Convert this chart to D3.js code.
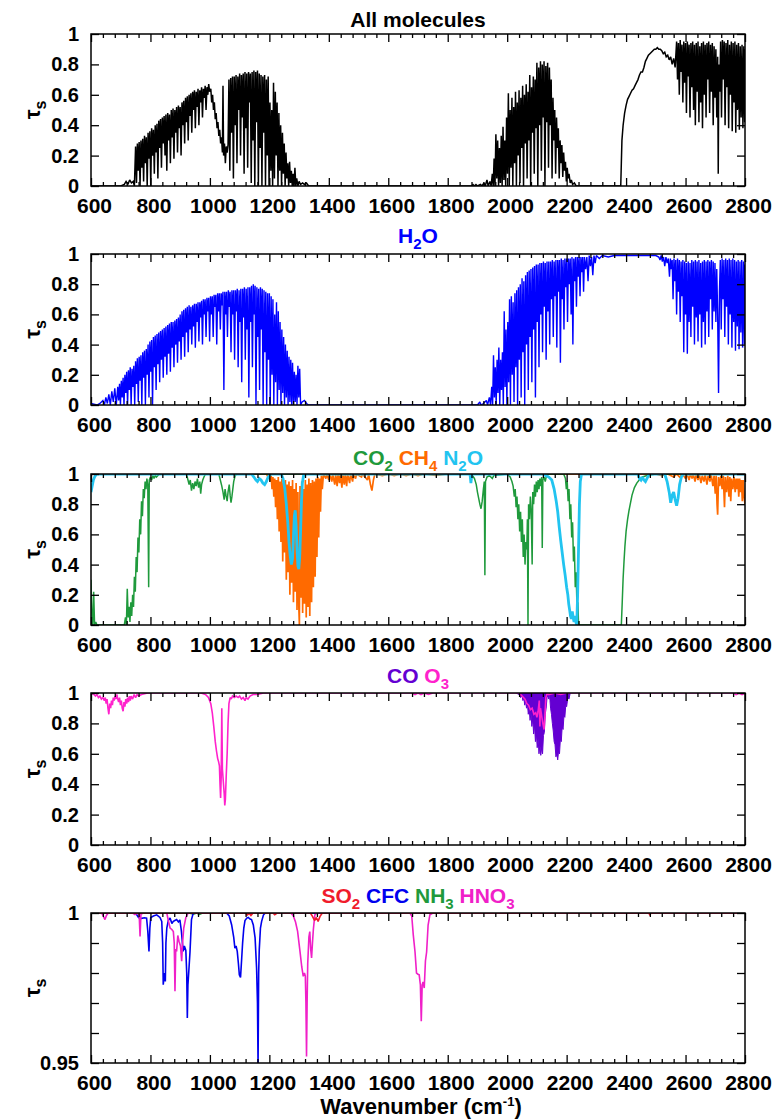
<!DOCTYPE html>
<html>
<head>
<meta charset="utf-8">
<script src="https://cdn.jsdelivr.net/npm/d3@7"></script>
<style>
  body { margin: 0; background: #fff; }
  text { font-family: "Liberation Sans", Arial, Helvetica, sans-serif; font-weight: bold; }
</style>
</head>
<body>
<svg id="chart" width="773" height="1120"></svg>
<script>
// ---- axis values ----------------------------------------------------------
const wnDomain = [600, 2800];
const wnTicks = [600, 800, 1000, 1200, 1400, 1600, 1800, 2000, 2200, 2400, 2600, 2800];
const tauTicks = [0, 0.2, 0.4, 0.6, 0.8, 1];
const tauTicksFine = [0.95, 0.96, 0.97, 0.98, 0.99, 1];
const tauLabelsFine = [0.95, 1];

// ---- transmittance spectra: [wavenumber (cm-1), tau_s] -----------------------
const allMolecules = [
  [600,0],[700,0],[712,0.01],[718,0.03],[724,0.01],[730,0.04],[736,0.02],[742,0.03],[746,0],
  [750,0.26],[753,0.02],[756,0.28],[759,0.10],[762,0.29],[765,0],[768,0.30],[771,0.12],[774,0.31],[777,0.03],
  [780,0.33],[783,0.15],[786,0.32],[789,0],[792,0.35],[795,0.18],[798,0.36],[801,0],[804,0.38],[807,0.20],
  [810,0.37],[813,0.08],[816,0.40],[819,0.22],[822,0.41],[825,0.05],[828,0.43],[831,0.25],[834,0.44],[837,0.12],
  [840,0.45],[843,0.28],[846,0.46],[849,0.20],[852,0.47],[855,0.10],[858,0.48],[861,0.30],[864,0.47],[867,0.15],
  [870,0.50],[873,0.32],[876,0.51],[879,0.18],[882,0.50],[885,0.35],[888,0.52],[891,0.22],[894,0.53],[897,0.38],
  [900,0.52],[903,0.20],[906,0.55],[909,0.40],[912,0.56],[915,0.28],[918,0.58],[921,0.42],[924,0.59],[927,0.30],
  [930,0.60],[933,0.46],[936,0.61],[939,0.35],[942,0.62],[945,0.50],[948,0.63],[951,0.38],[954,0.62],[957,0.52],
  [960,0.64],[963,0.40],[966,0.63],[969,0.55],[972,0.65],[975,0.45],[978,0.64],[981,0.58],[984,0.66],[987,0.50],
  [990,0.65],[993,0.60],[996,0.67],[999,0.62],[1003,0.64],[1006,0.55],[1009,0.60],[1012,0.50],[1015,0.55],[1018,0.44],
  [1021,0.48],[1024,0.38],[1027,0.42],[1030,0.33],[1033,0.37],[1036,0.28],[1039,0.32],[1042,0.22],[1044,0.66],[1046,0.20],
  [1049,0.28],[1052,0.15],[1055,0.26],[1058,0.22],[1061,0.27],[1064,0.70],[1067,0.10],[1070,0.71],[1073,0.35],[1076,0.72],
  [1079,0.05],[1082,0.72],[1085,0.40],[1088,0.73],[1091,0.15],[1094,0.72],[1097,0.50],[1100,0.74],[1103,0.20],[1106,0.73],
  [1109,0.45],[1112,0.74],[1115,0.08],[1118,0.75],[1121,0.38],[1124,0.74],[1127,0.12],[1130,0.75],[1133,0.55],[1136,0.74],
  [1139,0.02],[1142,0.75],[1145,0.30],[1148,0.76],[1151,0],[1154,0.75],[1157,0.42],[1160,0.76],[1163,0],[1166,0.74],
  [1169,0.25],[1172,0.73],[1175,0],[1178,0.72],[1181,0.35],[1184,0.73],[1187,0],[1190,0.70],[1193,0.20],[1196,0.72],
  [1199,0],[1202,0.55],[1205,0.10],[1208,0.50],[1211,0],[1214,0.68],[1217,0.05],[1220,0.62],[1223,0.20],[1226,0.55],
  [1229,0],[1232,0.48],[1235,0.10],[1238,0.40],[1241,0],[1244,0.35],[1247,0.08],[1250,0.28],[1253,0],[1256,0.22],
  [1259,0.05],[1262,0.15],[1265,0],[1268,0.16],[1271,0.02],[1274,0.10],[1277,0],[1280,0.08],[1283,0],[1286,0.12],
  [1289,0],[1292,0.05],[1296,0],[1300,0.03],[1305,0.01],[1312,0.02],[1318,0.01],[1325,0.02],[1332,0],[1880,0],
  [1885,0.01],[1890,0],[1895,0.01],[1900,0],[1910,0.01],[1915,0],[1922,0.02],[1926,0],[1932,0.04],[1936,0],
  [1942,0.03],[1946,0],[1950,0.08],[1953,0],[1956,0.18],[1959,0],[1962,0.34],[1965,0.05],[1968,0.30],[1971,0],
  [1974,0.25],[1977,0.02],[1980,0.33],[1983,0],[1986,0.39],[1989,0.04],[1992,0.30],[1995,0],[1998,0.45],[2001,0.08],
  [2004,0.61],[2007,0],[2010,0.50],[2013,0.12],[2016,0.58],[2019,0],[2022,0.52],[2025,0.15],[2028,0.62],[2031,0],
  [2034,0.55],[2037,0.20],[2040,0.63],[2043,0.02],[2046,0.58],[2049,0.25],[2052,0.66],[2055,0],[2058,0.60],[2061,0.28],
  [2064,0.67],[2067,0.05],[2070,0.62],[2073,0.30],[2076,0.73],[2079,0],[2082,0.65],[2085,0.35],[2088,0.72],[2091,0.08],
  [2094,0.70],[2097,0.38],[2100,0.81],[2103,0],[2106,0.78],[2109,0.40],[2112,0.82],[2115,0.10],[2118,0.80],[2121,0.45],
  [2124,0.82],[2127,0],[2130,0.79],[2133,0.42],[2136,0.81],[2139,0.12],[2142,0.78],[2145,0.40],[2148,0.70],[2151,0.05],
  [2154,0.58],[2157,0.30],[2160,0.50],[2163,0.08],[2166,0.45],[2169,0.25],[2172,0.38],[2175,0.05],[2178,0.30],[2181,0.15],
  [2184,0.27],[2187,0.06],[2190,0.22],[2193,0.10],[2196,0.16],[2199,0.03],[2202,0.12],[2205,0.05],[2208,0.08],[2212,0.02],
  [2216,0.04],[2220,0.01],[2226,0.02],[2232,0],[2382,0],[2384,0.15],[2386,0.30],[2390,0.40],[2395,0.48],[2400,0.53],
  [2405,0.57],[2410,0.59],[2415,0.61],[2420,0.63],[2425,0.64],[2430,0.66],[2435,0.68],[2440,0.70],[2445,0.73],[2450,0.75],
  [2455,0.75],[2460,0.78],[2465,0.82],[2470,0.84],[2475,0.86],[2480,0.87],[2485,0.88],[2490,0.89],[2495,0.90],[2500,0.90],
  [2505,0.91],[2510,0.90],[2515,0.90],[2520,0.89],[2525,0.87],[2530,0.88],[2535,0.85],[2540,0.86],[2545,0.83],[2550,0.85],
  [2555,0.80],[2560,0.84],[2565,0.78],[2570,0.95],[2573,0.70],[2576,0.94],[2579,0.60],[2582,0.96],[2585,0.75],[2588,0.93],
  [2591,0.55],[2594,0.95],[2597,0.68],[2600,0.94],[2603,0.48],[2606,0.95],[2609,0.72],[2612,0.93],[2615,0.45],[2618,0.94],
  [2621,0.65],[2624,0.95],[2627,0.50],[2630,0.93],[2633,0.40],[2636,0.94],[2639,0.62],[2642,0.95],[2645,0.42],[2648,0.92],
  [2651,0.55],[2654,0.94],[2657,0.38],[2660,0.95],[2663,0.60],[2666,0.93],[2669,0.45],[2672,0.94],[2675,0.70],[2678,0.95],
  [2681,0.48],[2684,0.93],[2687,0.62],[2690,0.94],[2693,0.40],[2696,0.92],[2699,0.58],[2702,0.90],[2705,0.45],[2708,0.85],
  [2710,0.08],[2712,0.80],[2715,0.62],[2718,0.95],[2721,0.45],[2724,0.96],[2727,0.70],[2730,0.95],[2733,0.40],[2736,0.94],
  [2739,0.65],[2742,0.96],[2745,0.38],[2748,0.93],[2751,0.60],[2754,0.95],[2757,0.36],[2760,0.94],[2763,0.55],[2766,0.95],
  [2769,0.35],[2772,0.93],[2775,0.50],[2778,0.94],[2781,0.37],[2784,0.92],[2787,0.45],[2790,0.93],[2793,0.38],[2796,0.92],
  [2799,0.42],[2800,0.90]
];

const h2o = [
  [600,0.01],[620,0],[630,0.01],[640,0.03],[645,0],[650,0.05],[655,0.01],[660,0.07],[665,0],[670,0.09],
  [675,0.02],[680,0.11],[685,0],[690,0.12],[693,0.03],[696,0.14],[699,0],[702,0.16],[705,0.05],[708,0.18],
  [711,0],[714,0.20],[717,0.08],[720,0.22],[723,0],[726,0.23],[729,0.10],[732,0.25],[735,0],[738,0.24],
  [741,0.12],[744,0.26],[747,0],[750,0.29],[753,0.14],[756,0.31],[759,0.02],[762,0.32],[765,0.16],[768,0.33],
  [771,0],[774,0.35],[777,0.18],[780,0.36],[783,0],[786,0.37],[789,0.20],[792,0.40],[795,0.05],[798,0.42],
  [801,0.22],[804,0.43],[807,0],[810,0.45],[813,0.25],[816,0.46],[819,0.10],[822,0.47],[825,0.27],[828,0.48],
  [831,0.15],[834,0.49],[837,0.30],[840,0.50],[843,0.18],[846,0.51],[849,0.32],[852,0.52],[855,0.20],[858,0.53],
  [861,0.34],[864,0.54],[867,0.22],[870,0.55],[873,0.38],[876,0.55],[879,0.25],[882,0.56],[885,0.40],[888,0.57],
  [891,0.28],[894,0.58],[897,0.42],[900,0.60],[903,0.30],[906,0.62],[909,0.45],[912,0.63],[915,0.32],[918,0.64],
  [921,0.48],[924,0.65],[927,0.35],[930,0.66],[933,0.50],[936,0.65],[939,0.40],[942,0.66],[945,0.52],[948,0.67],
  [951,0.38],[954,0.67],[957,0.55],[960,0.68],[963,0.42],[966,0.68],[969,0.58],[972,0.69],[975,0.40],[978,0.70],
  [981,0.60],[984,0.70],[987,0.45],[990,0.71],[993,0.62],[996,0.71],[999,0.42],[1002,0.72],[1005,0.60],[1008,0.72],
  [1011,0.45],[1014,0.73],[1017,0.65],[1020,0.73],[1023,0.40],[1026,0.74],[1029,0.62],[1032,0.74],[1035,0.50],[1038,0.74],
  [1041,0.66],[1044,0.75],[1047,0.10],[1050,0.75],[1053,0.60],[1056,0.75],[1059,0.45],[1062,0.76],[1065,0.65],[1068,0.75],
  [1071,0.35],[1074,0.76],[1077,0.60],[1080,0.76],[1083,0.30],[1086,0.76],[1089,0.62],[1092,0.77],[1095,0.25],[1098,0.76],
  [1101,0.55],[1104,0.77],[1107,0.15],[1110,0.77],[1113,0.58],[1116,0.78],[1119,0.30],[1122,0.77],[1125,0.50],[1128,0.78],
  [1131,0.05],[1134,0.78],[1137,0.55],[1140,0.79],[1143,0.25],[1146,0.80],[1149,0.60],[1152,0.79],[1155,0],[1158,0.78],
  [1161,0.45],[1164,0.77],[1167,0.10],[1170,0.78],[1173,0.50],[1176,0.77],[1179,0],[1182,0.76],[1185,0.35],[1188,0.75],
  [1191,0],[1194,0.74],[1197,0.30],[1200,0.74],[1203,0],[1206,0.72],[1209,0.20],[1212,0.70],[1215,0],[1218,0.60],
  [1221,0.15],[1224,0.68],[1227,0],[1230,0.62],[1233,0.10],[1236,0.55],[1239,0],[1242,0.50],[1245,0.08],[1248,0.45],
  [1251,0],[1254,0.40],[1257,0.05],[1260,0.36],[1263,0],[1266,0.32],[1269,0.02],[1272,0.30],[1275,0],[1278,0.28],
  [1281,0],[1284,0.22],[1287,0.02],[1290,0.20],[1293,0],[1296,0.26],[1299,0.05],[1302,0.24],[1305,0],[1310,0.02],
  [1318,0.03],[1325,0.01],[1332,0],[1900,0],[1908,0.02],[1912,0],[1920,0.01],[1930,0.03],[1934,0],[1940,0.05],
  [1944,0],[1948,0.12],[1951,0],[1954,0.33],[1957,0.05],[1960,0.25],[1963,0],[1966,0.30],[1969,0.08],[1972,0.38],
  [1975,0],[1978,0.30],[1981,0.10],[1984,0.35],[1987,0],[1990,0.62],[1993,0.12],[1996,0.50],[1999,0],[2002,0.55],
  [2005,0.15],[2008,0.70],[2011,0],[2014,0.72],[2017,0.20],[2020,0.68],[2023,0.02],[2026,0.74],[2029,0.25],[2032,0.76],
  [2035,0],[2038,0.78],[2041,0.30],[2044,0.80],[2047,0.05],[2050,0.84],[2053,0.35],[2056,0.82],[2059,0],[2062,0.86],
  [2065,0.40],[2068,0.88],[2071,0.10],[2074,0.89],[2077,0.45],[2080,0.90],[2083,0.15],[2086,0.91],[2089,0.50],[2092,0.92],
  [2095,0.05],[2098,0.93],[2101,0.55],[2104,0.93],[2107,0.25],[2110,0.94],[2113,0.60],[2116,0.94],[2119,0.35],[2122,0.95],
  [2125,0.65],[2128,0.94],[2131,0.30],[2134,0.95],[2137,0.62],[2140,0.95],[2143,0.40],[2146,0.95],[2149,0.70],[2152,0.96],
  [2155,0.45],[2158,0.95],[2161,0.72],[2164,0.96],[2167,0.38],[2170,0.96],[2173,0.75],[2176,0.96],[2179,0.28],[2182,0.97],
  [2185,0.70],[2188,0.96],[2191,0.50],[2194,0.97],[2197,0.78],[2200,0.97],[2203,0.55],[2206,0.97],[2209,0.80],[2212,0.97],
  [2215,0.60],[2218,0.98],[2221,0.40],[2224,0.97],[2227,0.82],[2230,0.98],[2233,0.65],[2236,0.98],[2239,0.85],[2242,0.98],
  [2245,0.72],[2248,0.98],[2251,0.88],[2254,0.98],[2257,0.75],[2260,0.98],[2264,0.90],[2268,0.98],[2272,0.82],[2276,0.99],
  [2280,0.92],[2284,0.98],[2288,0.86],[2292,0.99],[2296,0.94],[2300,0.99],[2310,0.97],[2320,0.99],[2340,0.98],[2360,0.99],
  [2400,0.99],[2440,0.99],[2480,0.99],[2500,0.99],[2510,0.98],[2514,0.96],[2518,0.99],[2522,0.95],[2526,0.98],[2530,0.92],
  [2534,0.98],[2538,0.94],[2542,0.97],[2546,0.85],[2549,0.97],[2552,0.90],[2555,0.96],[2558,0.70],[2561,0.97],[2564,0.82],
  [2567,0.96],[2570,0.60],[2573,0.97],[2576,0.75],[2579,0.96],[2582,0.55],[2585,0.95],[2588,0.72],[2591,0.96],[2594,0.35],
  [2597,0.95],[2600,0.60],[2603,0.94],[2606,0.34],[2609,0.95],[2612,0.55],[2615,0.94],[2618,0.45],[2621,0.96],[2624,0.65],
  [2627,0.95],[2630,0.40],[2633,0.96],[2636,0.58],[2639,0.95],[2642,0.42],[2645,0.96],[2648,0.60],[2651,0.94],[2654,0.38],
  [2657,0.95],[2660,0.55],[2663,0.96],[2666,0.40],[2669,0.95],[2672,0.62],[2675,0.96],[2678,0.45],[2681,0.95],[2684,0.70],
  [2687,0.96],[2690,0.50],[2693,0.95],[2696,0.62],[2699,0.94],[2702,0.55],[2705,0.90],[2708,0.60],[2711,0.08],[2714,0.75],
  [2717,0.96],[2720,0.50],[2723,0.97],[2726,0.70],[2729,0.96],[2732,0.45],[2735,0.97],[2738,0.65],[2741,0.96],[2744,0.40],
  [2747,0.97],[2750,0.60],[2753,0.96],[2756,0.38],[2759,0.97],[2762,0.55],[2765,0.96],[2768,0.36],[2771,0.95],[2774,0.52],
  [2777,0.96],[2780,0.37],[2783,0.95],[2786,0.48],[2789,0.96],[2792,0.38],[2795,0.95],[2798,0.40],[2800,0.93]
];

const co2 = [
  [600,0.30],[603,0.05],[606,0],[609,0.22],[612,0],[616,0.02],[620,0],[712,0],[716,0.05],[719,0],
  [722,0.24],[725,0.05],[728,0.12],[731,0.02],[734,0.15],[737,0.06],[740,0.20],[743,0.12],[746,0.32],[749,0.22],
  [752,0.45],[755,0.35],[758,0.58],[761,0.48],[764,0.70],[767,0.60],[770,0.82],[773,0.72],[776,0.90],[779,0.84],
  [782,0.95],[785,0.90],[788,0.97],[791,0.93],[794,0.25],[796,0.96],[800,0.98],[804,0.96],[808,0.99],[812,0.97],
  [816,0.99],[820,0.98],[830,1],[920,1],[925,0.97],[930,0.93],[934,0.96],[938,0.89],[942,0.94],[946,0.90],
  [950,0.95],[954,0.92],[958,0.97],[962,0.91],[966,0.95],[969,0.87],[972,0.93],[976,0.96],[980,0.98],[985,1],
  [1030,1],[1035,0.96],[1040,0.92],[1044,0.88],[1048,0.83],[1051,0.90],[1054,0.86],[1058,0.82],[1061,0.88],[1065,0.93],
  [1068,0.86],[1071,0.81],[1074,0.85],[1077,0.90],[1080,0.95],[1085,0.99],[1090,1],[1880,1],[1890,0.97],[1896,0.93],
  [1900,0.88],[1904,0.84],[1908,0.80],[1912,0.77],[1916,0.82],[1920,0.90],[1923,0.95],[1925,0.33],[1927,0.95],[1932,0.98],
  [1940,0.99],[1950,0.97],[1955,0.99],[2000,1],[2010,0.98],[2016,0.95],[2020,0.92],[2024,0.85],[2027,0.90],[2030,0.78],
  [2033,0.85],[2036,0.70],[2039,0.80],[2042,0.62],[2045,0.75],[2048,0.55],[2051,0.70],[2054,0.45],[2057,0.60],[2060,0.40],
  [2063,0.55],[2066,0.50],[2068,0.70],[2070,0],[2072,0.80],[2075,0.70],[2078,0.85],[2081,0.75],[2084,0.40],[2086,0.88],
  [2089,0.80],[2092,0.93],[2095,0.85],[2098,0.95],[2101,0.88],[2104,0.96],[2107,0.90],[2110,0.97],[2113,0.92],[2116,0.98],
  [2118,0.51],[2120,0.96],[2124,0.98],[2128,0.95],[2132,0.99],[2140,1],[2190,1],[2196,0.97],[2199,0.90],[2202,0.95],
  [2205,0.82],[2208,0.90],[2211,0.70],[2214,0.80],[2217,0.58],[2220,0.68],[2223,0.42],[2226,0.52],[2229,0.25],[2232,0.35],
  [2235,0.10],[2238,0.15],[2240,0],[2384,0],[2387,0.15],[2390,0.31],[2393,0.42],[2396,0.52],[2400,0.62],[2405,0.70],
  [2410,0.76],[2415,0.81],[2420,0.86],[2428,0.91],[2436,0.94],[2444,0.96],[2455,0.98],[2470,0.99],[2500,1],[2800,1]
];

const ch4 = [
  [600,1],[1190,1],[1196,0.98],[1200,1],[1203,0.95],[1206,0.99],[1209,0.90],[1212,0.98],[1215,0.85],[1218,0.97],
  [1221,0.78],[1224,0.96],[1227,0.70],[1230,0.98],[1233,0.62],[1236,0.95],[1239,0.55],[1242,0.97],[1245,0.42],[1248,0.94],
  [1251,0.48],[1254,0.96],[1257,0.30],[1260,0.93],[1263,0.35],[1266,0.95],[1269,0.20],[1272,0.92],[1275,0.28],[1278,0.96],
  [1281,0.15],[1284,0.90],[1287,0.22],[1290,0.94],[1293,0.10],[1296,0.88],[1299,0.13],[1301,0],[1303,0.92],[1306,0.18],
  [1309,0.95],[1312,0.08],[1315,0.90],[1318,0.14],[1321,0.96],[1324,0.05],[1327,0.93],[1330,0.12],[1333,0.97],[1336,0.06],
  [1339,0.94],[1342,0.15],[1345,0.96],[1348,0.25],[1351,0.95],[1354,0.32],[1357,0.97],[1360,0.45],[1363,0.98],[1366,0.58],
  [1369,0.97],[1372,0.75],[1375,0.99],[1378,0.90],[1382,1],[1390,0.97],[1393,1],[1400,0.96],[1403,1],[1410,0.95],
  [1413,1],[1420,0.93],[1423,1],[1428,0.92],[1431,1],[1436,0.94],[1439,1],[1444,0.91],[1447,1],[1452,0.93],
  [1455,1],[1460,0.92],[1463,1],[1470,0.94],[1473,1],[1480,0.95],[1483,1],[1490,0.97],[1493,1],[1510,0.98],
  [1513,1],[1530,0.96],[1534,1],[1540,0.93],[1545,0.89],[1550,0.96],[1555,1],[1580,0.99],[1600,1],[1620,0.99],
  [1640,1],[1660,0.99],[1680,1],[1700,0.99],[1720,1],[1760,0.99],[1800,1],[2500,1],[2520,0.99],[2540,1],
  [2560,0.98],[2570,1],[2580,0.98],[2590,1],[2600,0.97],[2605,1],[2612,0.96],[2616,1],[2622,0.97],[2626,1],
  [2632,0.95],[2636,1],[2642,0.96],[2646,1],[2652,0.94],[2656,0.99],[2662,0.95],[2666,1],[2672,0.93],[2676,0.99],
  [2682,0.95],[2686,1],[2692,0.92],[2696,0.99],[2700,0.87],[2703,0.99],[2706,0.80],[2708,0.73],[2711,0.98],[2715,0.92],
  [2719,0.99],[2723,0.90],[2727,0.99],[2731,0.78],[2734,0.98],[2738,0.88],[2742,0.99],[2746,0.85],[2749,0.98],[2752,0.82],
  [2755,0.97],[2759,0.90],[2763,0.98],[2767,0.88],[2770,0.97],[2773,0.90],[2776,0.97],[2779,0.85],[2782,0.97],[2785,0.88],
  [2788,0.96],[2791,0.82],[2794,0.96],[2797,0.85],[2800,0.80]
];

const n2o = [
  [600,0.88],[604,0.92],[608,0.96],[612,0.98],[618,1],[1140,1],[1148,0.98],[1155,0.96],[1160,0.95],[1166,0.97],
  [1172,0.96],[1178,0.94],[1184,0.93],[1190,0.95],[1196,0.98],[1205,1],[1240,1],[1246,0.97],[1252,0.90],[1257,0.80],
  [1262,0.68],[1266,0.55],[1270,0.46],[1274,0.40],[1278,0.44],[1281,0.58],[1284,0.72],[1287,0.76],[1290,0.66],[1293,0.50],
  [1296,0.39],[1299,0.37],[1302,0.45],[1305,0.62],[1308,0.82],[1311,0.94],[1315,0.99],[1320,1],[1875,1],[1878,0.94],
  [1881,1],[2120,1],[2130,0.99],[2140,0.98],[2150,0.96],[2158,0.90],[2165,0.82],[2170,0.75],[2175,0.65],[2180,0.56],
  [2185,0.48],[2190,0.40],[2195,0.33],[2200,0.25],[2204,0.20],[2207,0.14],[2210,0.10],[2213,0.06],[2216,0.04],[2219,0.09],
  [2222,0.05],[2225,0.02],[2228,0.06],[2231,0.02],[2234,0],[2237,0.20],[2240,0.50],[2243,0.80],[2246,0.95],[2250,1],
  [2440,1],[2445,0.97],[2450,0.96],[2455,0.98],[2460,0.96],[2465,0.95],[2470,0.97],[2478,1],[2530,1],[2538,0.95],
  [2545,0.88],[2550,0.81],[2555,0.86],[2560,0.88],[2565,0.83],[2570,0.79],[2575,0.84],[2580,0.93],[2586,0.98],[2592,1],
  [2800,1]
];

const co = [
  [2030,1],[2040,0.99],[2045,0.97],[2050,0.98],[2053,0.95],[2056,0.97],[2059,0.92],[2062,0.95],[2065,0.90],[2068,0.93],
  [2071,0.86],[2074,0.90],[2077,0.82],[2080,0.87],[2083,0.78],[2086,0.83],[2089,0.73],[2092,0.79],[2095,0.68],[2098,0.74],
  [2101,0.64],[2104,0.70],[2107,0.60],[2110,0.66],[2113,0.59],[2116,0.64],[2119,0.60],[2122,0.72],[2125,0.74],[2128,0.86],
  [2131,0.90],[2134,0.97],[2137,0.98],[2140,0.96],[2142,1],[2144,0.95],[2146,0.90],[2149,0.86],[2152,0.80],[2155,0.75],
  [2158,0.68],[2161,0.66],[2164,0.58],[2167,0.60],[2170,0.56],[2173,0.62],[2176,0.60],[2179,0.70],[2182,0.68],[2185,0.78],
  [2188,0.76],[2191,0.85],[2194,0.84],[2197,0.92],[2200,0.91],[2204,0.97],[2208,0.96],[2212,1]
];

const o3 = [
  [600,1],[610,0.99],[615,0.98],[620,0.99],[625,0.97],[630,0.98],[635,0.96],[640,0.97],[645,0.95],[648,0.97],
  [651,0.93],[654,0.96],[657,0.90],[660,0.86],[663,0.93],[666,0.90],[669,0.95],[672,0.92],[675,0.97],[678,0.95],
  [681,0.98],[684,0.96],[687,0.99],[690,0.96],[693,0.94],[696,0.97],[699,0.92],[702,0.95],[705,0.90],[708,0.88],
  [711,0.94],[714,0.91],[717,0.96],[720,0.93],[723,0.97],[726,0.94],[729,0.98],[732,0.95],[735,0.98],[740,0.96],
  [745,0.99],[750,0.97],[755,0.99],[760,0.98],[770,0.99],[790,1],[970,1],[985,0.99],[995,0.97],[1003,0.93],
  [1008,0.87],[1013,0.78],[1018,0.68],[1022,0.62],[1026,0.57],[1029,0.55],[1032,0.52],[1034,0.40],[1036,0.31],[1038,0.45],
  [1040,0.90],[1042,0.50],[1045,0.42],[1048,0.34],[1050,0.26],[1052,0.30],[1055,0.46],[1058,0.60],[1061,0.80],[1064,0.93],
  [1068,0.97],[1072,0.96],[1076,0.98],[1082,0.97],[1088,0.98],[1095,0.97],[1100,0.98],[1106,0.96],[1112,0.97],[1118,0.95],
  [1122,0.97],[1128,0.96],[1135,0.98],[1145,0.99],[1160,0.99],[1180,1],[1680,1],[1690,0.99],[1700,1],[1710,0.99],
  [1720,1],[1735,0.99],[1750,1],[2040,1],[2050,0.98],[2060,0.96],[2066,0.93],[2072,0.92],[2078,0.89],[2084,0.90],
  [2090,0.86],[2096,0.87],[2100,0.84],[2104,0.88],[2108,0.95],[2110,0.78],[2112,0.90],[2116,0.85],[2120,0.80],[2124,0.76],
  [2127,0.85],[2130,0.97],[2135,1],[2140,0.99],[2160,1],[2180,0.99],[2200,1],[2760,1],[2770,0.99],[2780,1],
  [2790,0.99],[2800,1]
];

const so2 = [
  [600,1],[1120,1],[1125,0.9993],[1132,0.9999],[1138,0.9992],[1145,1],[1212,1],[1218,0.9994],[1226,1],[1338,1],
  [1345,0.9989],[1352,0.9975],[1358,0.9985],[1364,0.9972],[1370,0.9988],[1378,1],[2476,1],[2480,0.9994],[2484,1],[2800,1]
];

const cfc = [
  [600,1],[750,1],[760,0.9985],[770,0.9982],[780,0.9984],[787,0.9983],[791,0.9940],[795,0.9872],[798,0.9950],[801,0.9985],
  [810,0.9990],[821,0.9994],[832,0.9985],[838,0.9972],[841,0.9900],[843,0.9761],[847,0.9800],[850,0.9772],[852,0.9900],[855,0.9950],
  [860,0.9975],[866,0.9983],[872,0.9965],[877,0.9972],[882,0.9975],[888,0.9978],[894,0.9970],[899,0.9977],[904,0.9940],[910,0.9872],
  [914,0.9890],[919,0.9875],[922,0.9800],[924,0.9650],[926,0.9760],[929,0.9806],[933,0.9870],[938,0.9978],[944,1],[1056,1],
  [1065,0.9990],[1073,0.9961],[1080,0.9920],[1084,0.9883],[1088,0.9890],[1092,0.9872],[1096,0.9830],[1099,0.9794],[1103,0.9785],[1107,0.9850],
  [1110,0.9900],[1114,0.9950],[1118,0.9975],[1124,0.9983],[1129,0.9985],[1135,0.9980],[1140,0.9978],[1146,0.9960],[1152,0.9917],[1157,0.9817],
  [1160,0.9700],[1162,0.9490],[1164,0.9800],[1166,0.9878],[1170,0.9950],[1174,0.9972],[1180,0.9993],[1186,1],[2800,1]
];

const nh3 = [
  [600,1],[930,1],[945,0.9996],[955,1],[965,0.9995],[975,1],[2800,1]
];

const hno3 = [
  [600,1],[636,1],[641,0.9990],[647,0.9978],[652,0.9992],[658,1],[740,1],[748,0.9995],[756,1],[762,0.9996],
  [765,0.9922],[768,0.9996],[775,1],[855,1],[860,0.9975],[866,0.9950],[872,0.9945],[877,0.9938],[880,0.9900],[882.5,0.9739],
  [885,0.9880],[888,0.9872],[892,0.9925],[896,0.9906],[901,0.9890],[905,0.9839],[908,0.9900],[912,0.9950],[919,0.9985],[927,1],
  [1272,1],[1280,0.9992],[1288,0.9970],[1295,0.9939],[1303,0.9872],[1309,0.9820],[1314,0.9789],[1318,0.9800],[1321,0.9790],[1323,0.9700],
  [1325,0.9522],[1327,0.9700],[1329,0.9830],[1333,0.9920],[1336,0.9938],[1339,0.9880],[1342,0.9850],[1345,0.9900],[1348,0.9945],[1353,0.9994],
  [1360,1],[1673,1],[1679,0.9990],[1684,0.9928],[1690,0.9870],[1695,0.9800],[1700,0.9796],[1704,0.9794],[1708,0.9760],[1711,0.9639],
  [1714,0.9760],[1717,0.9770],[1721,0.9750],[1725,0.9840],[1729,0.9870],[1734,0.9960],[1740,0.9994],[1750,1],[2800,1]
];

// ---- colours ----------------------------------------------------------------
const colors = {
  all: "#000000", h2o: "#0000ff", co2: "#1f9a3c", ch4: "#ff6a00", n2o: "#22c4f0",
  co: "#6400d2", o3: "#ff22cc", so2: "#f01c2c", cfc: "#0000ee", nh3: "#1f9a3c", hno3: "#f020c8"
};

// ---- panel layout -----------------------------------------------------------
const plotLeft = 91, plotRight = 745;

const panels = [
  { top: 34, bottom: 186, tau: [0, 1], ticks: tauTicks, labels: tauTicks, titleY: 27,
    title: [["All molecules", colors.all]],
    series: [{ data: allMolecules, color: colors.all, width: 1.5 }] },
  { top: 254, bottom: 405, tau: [0, 1], ticks: tauTicks, labels: tauTicks, titleY: 243,
    title: [["H_2O", colors.h2o]],
    series: [{ data: h2o, color: colors.h2o, width: 1.4 }] },
  { top: 474, bottom: 625, tau: [0, 1], ticks: tauTicks, labels: tauTicks, titleY: 465,
    title: [["CO_2", colors.co2], ["CH_4", colors.ch4], ["N_2O", colors.n2o]],
    series: [
      { data: ch4, color: colors.ch4, width: 1.7 },
      { data: co2, color: colors.co2, width: 1.5 },
      { data: n2o, color: colors.n2o, width: 2.8 }
    ] },
  { top: 693, bottom: 845, tau: [0, 1], ticks: tauTicks, labels: tauTicks, titleY: 683,
    title: [["CO", colors.co], ["O_3", colors.o3]],
    series: [
      { data: co, color: colors.co, width: 1.0, fill: true },
      { data: o3, color: colors.o3, width: 1.6 }
    ] },
  { top: 913, bottom: 1063, tau: [0.95, 1], ticks: tauTicksFine, labels: tauLabelsFine, titleY: 903,
    title: [["SO_2", colors.so2], ["CFC", colors.cfc], ["NH_3", colors.nh3], ["HNO_3", colors.hno3]],
    series: [
      { data: nh3, color: colors.nh3, width: 1.5 },
      { data: cfc, color: colors.cfc, width: 1.6 },
      { data: hno3, color: colors.hno3, width: 1.6 },
      { data: so2, color: colors.so2, width: 1.6 }
    ] }
];

// ---- drawing ----------------------------------------------------------------
const svg = d3.select("#chart");
const x = d3.scaleLinear().domain(wnDomain).range([plotLeft, plotRight]);
const wnMinor = d3.range(wnDomain[0], wnDomain[1] + 1, 40).filter(v => !wnTicks.includes(v));

// writes "N_2O"-style labels as text with subscript tspans
function addRichText(sel, parts, subSize, subShift) {
  let shift = 0;
  parts.forEach(([label, color], i) => {
    label.split(/_(\d)/).forEach((piece, j) => {
      if (piece === "") return;
      const isSub = j % 2 === 1;
      const target = isSub ? subShift : 0;
      const t = sel.append("tspan").attr("fill", color)
        .text((i > 0 && j === 0 ? " " : "") + piece);
      if (isSub) t.attr("font-size", subSize);
      if (target !== shift) { t.attr("dy", target - shift); shift = target; }
    });
  });
}

panels.forEach((p, idx) => {
  const y = d3.scaleLinear().domain(p.tau).range([p.bottom, p.top]);
  const g = svg.append("g");
  const clipId = "clip" + idx;
  svg.append("clipPath").attr("id", clipId).append("rect")
    .attr("x", plotLeft).attr("y", p.top).attr("width", plotRight - plotLeft).attr("height", p.bottom - p.top);

  const plot = g.append("g").attr("clip-path", `url(#${clipId})`);
  const line = d3.line().x(d => x(d[0])).y(d => y(d[1]));
  const area = d3.area().x(d => x(d[0])).y0(y(p.tau[1])).y1(d => y(d[1]));

  p.series.forEach(s => {
    if (s.fill) {
      plot.append("path").datum(s.data).attr("d", area).attr("fill", s.color).attr("stroke", "none");
    }
    plot.append("path").datum(s.data).attr("d", line)
      .attr("fill", "none").attr("stroke", s.color).attr("stroke-width", s.width)
      .attr("stroke-linejoin", "miter").attr("stroke-miterlimit", 2);
  });

  // axes: inward ticks on all four sides
  const fmt = d => (p.labels.includes(d) ? String(d) : "");
  const styleAxis = a => {
    a.select(".domain").remove();
    a.selectAll(".tick line").attr("stroke", "#000").attr("stroke-width", 1.3);
  };
  g.append("g").attr("transform", `translate(0,${p.bottom})`)
    .call(d3.axisBottom(x).tickValues(wnTicks).tickSize(-8).tickPadding(12).tickFormat(d3.format("d")))
    .call(styleAxis)
    .call(a => a.selectAll("text").attr("font-size", 21).attr("fill", "#000").attr("dx", 3)
      .attr("font-family", '"Liberation Sans", Arial, sans-serif').attr("font-weight", "bold"));
  g.append("g").attr("transform", `translate(0,${p.bottom})`)
    .call(d3.axisBottom(x).tickValues(wnMinor).tickSize(-4).tickFormat(""))
    .call(styleAxis);
  g.append("g").attr("transform", `translate(0,${p.top})`)
    .call(d3.axisTop(x).tickValues(wnTicks).tickSize(-8).tickFormat(""))
    .call(styleAxis);
  g.append("g").attr("transform", `translate(0,${p.top})`)
    .call(d3.axisTop(x).tickValues(wnMinor).tickSize(-4).tickFormat(""))
    .call(styleAxis);
  g.append("g").attr("transform", `translate(${plotLeft},0)`)
    .call(d3.axisLeft(y).tickValues(p.ticks).tickSize(-8).tickPadding(12).tickFormat(fmt))
    .call(styleAxis)
    .call(a => a.selectAll("text").attr("font-size", 20).attr("fill", "#000")
      .attr("font-family", '"Liberation Sans", Arial, sans-serif').attr("font-weight", "bold"));
  g.append("g").attr("transform", `translate(${plotRight},0)`)
    .call(d3.axisRight(y).tickValues(p.ticks).tickSize(-8).tickFormat(""))
    .call(styleAxis);

  // frame
  g.append("rect").attr("x", plotLeft).attr("y", p.top)
    .attr("width", plotRight - plotLeft).attr("height", p.bottom - p.top)
    .attr("fill", "none").attr("stroke", "#000").attr("stroke-width", 1.5);

  // title
  const title = g.append("text").attr("x", (plotLeft + plotRight) / 2).attr("y", p.titleY)
    .attr("text-anchor", "middle").attr("font-size", 21);
  addRichText(title, p.title, 15, 6);

  // y axis label
  const cy = (p.top + p.bottom) / 2;
  const yl = g.append("text").attr("transform", `translate(40,${cy}) rotate(-90)`)
    .attr("text-anchor", "middle").attr("font-size", 22).attr("font-weight", "normal")
    .attr("font-family", '"DejaVu Sans", sans-serif');
  yl.append("tspan").text("τ");
  yl.append("tspan").attr("font-size", 16).attr("dy", 6).attr("font-weight", "bold")
    .attr("font-family", '"Liberation Sans", Arial, sans-serif').text("s");
});

// x axis title
const xt = svg.append("text").attr("x", 421).attr("y", 1114).attr("text-anchor", "middle").attr("font-size", 22);
xt.append("tspan").text("Wavenumber (cm");
xt.append("tspan").attr("font-size", 13).attr("dy", -8).text("-1");
xt.append("tspan").attr("dy", 8).text(")");
</script>
</body>
</html>
